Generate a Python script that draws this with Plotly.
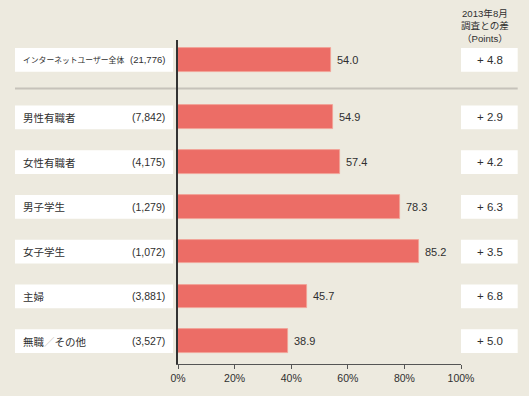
import plotly.graph_objects as go

# ---- data ----
categories = ["インターネットユーザー全体", "男性有職者", "女性有職者", "男子学生",
              "女子学生", "主婦", "無職／その他"]
counts = ["21,776", "7,842", "4,175", "1,279", "1,072", "3,881", "3,527"]
values = [54.0, 54.9, 57.4, 78.3, 85.2, 45.7, 38.9]
diffs = [4.8, 2.9, 4.2, 6.3, 3.5, 6.8, 5.0]
x_ticks = [0, 20, 40, 60, 80, 100]
header = ["2013年8月", "調査との差", "（Points）"]

# ---- layout helpers ----
BG = "#EDEADF"
BAR = "#EC6D66"
TXT = "#2f2f2f"
LAT = "Liberation Sans, Noto Sans CJK JP, sans-serif"
CJK = "Noto Sans CJK JP, sans-serif"

L, R, T, B = 178, 68, 40, 29
W, H = 529, 396
PW = W - L - R


def px(xp):
    return (xp - L) / PW


GAP = 1.283
ypos = [0.0] + [GAP + i for i in range(len(categories) - 1)]
sep_y = 0.642
BW = 0.53

fig = go.Figure()
fig.add_trace(go.Bar(
    x=values, y=ypos, orientation="h", width=BW,
    marker=dict(color=BAR, line=dict(color="#F2A195", width=0.8)),
    hoverinfo="skip", showlegend=False,
))

shapes = []
annotations = []
for i, (cat, cnt, v, d) in enumerate(zip(categories, counts, values, diffs)):
    y = ypos[i]
    # left white label box
    shapes.append(dict(type="rect", xref="paper", yref="y",
                       x0=px(15), x1=px(173), y0=y - BW / 2, y1=y + BW / 2,
                       fillcolor="white", line=dict(width=0), layer="below"))
    # right white diff box
    shapes.append(dict(type="rect", xref="paper", yref="y",
                       x0=px(461), x1=px(517.7), y0=y - BW / 2, y1=y + BW / 2,
                       fillcolor="white", line=dict(width=0), layer="below"))
    if i == 0:
        annotations.append(dict(xref="paper", yref="y", x=px(21), y=y,
                                text=cat, showarrow=False,
                                xanchor="left", yanchor="middle",
                                font=dict(family=CJK, size=7.8, color=TXT)))
        annotations.append(dict(xref="paper", yref="y", x=px(167), y=y,
                                text=f"({cnt})", showarrow=False,
                                xanchor="right", yanchor="middle",
                                font=dict(family=LAT, size=9.5, color=TXT)))
    else:
        name = cat.replace("／", "<span style='color:#b8b4ac'>／</span>")
        annotations.append(dict(xref="paper", yref="y", x=px(21), y=y,
                                text=name, showarrow=False,
                                xanchor="left", yanchor="middle",
                                font=dict(family=CJK, size=10.5, color=TXT)))
        annotations.append(dict(xref="paper", yref="y", x=px(167), y=y,
                                text=f"({cnt})", showarrow=False,
                                xanchor="right", yanchor="middle",
                                font=dict(family=LAT, size=10.5, color=TXT)))
    # value label
    annotations.append(dict(xref="x", yref="y", x=v, y=y, xshift=4,
                            text=f"{v:.1f}", showarrow=False,
                            xanchor="left", yanchor="middle",
                            font=dict(family=LAT, size=11, color=TXT)))
    # diff label
    annotations.append(dict(xref="paper", yref="y", x=px(489.5), y=y,
                            text=f"+ {d:.1f}", showarrow=False,
                            xanchor="center", yanchor="middle",
                            font=dict(family=LAT, size=11.5, color=TXT)))

# separator line
shapes.append(dict(type="line", xref="paper", yref="y",
                   x0=px(15), x1=px(517.7), y0=sep_y, y1=sep_y,
                   line=dict(color="#C6C2BA", width=2), layer="below"))

# header
ph = H - T - B
annotations.append(dict(xref="paper", yref="paper", x=px(485), y=(H - B - 26) / ph,
                        text="<br>".join(header), showarrow=False,
                        xanchor="center", yanchor="middle", align="center",
                        font=dict(family=LAT, size=9.6, color=TXT)))

fig.update_layout(
    width=W, height=H,
    margin=dict(l=L, r=R, t=T, b=B, pad=0),
    paper_bgcolor=BG, plot_bgcolor=BG,
    shapes=shapes, annotations=annotations,
    bargap=0,
    xaxis=dict(range=[0, 100], tickmode="array", tickvals=x_ticks,
               ticktext=[f"{t}%" for t in x_ticks],
               showgrid=False, zeroline=False,
               showline=True, linecolor="#555555", linewidth=1,
               ticks="outside", ticklen=4, tickcolor="#555555", tickwidth=1,
               tickfont=dict(family=LAT, size=10.5, color=TXT),
               fixedrange=True),
    yaxis=dict(range=[6.792, -0.442], showticklabels=False, ticks="",
               showgrid=False, zeroline=False,
               showline=True, linecolor="#333333", linewidth=1.5,
               fixedrange=True),
)

fig.write_html("out.html", config={"displayModeBar": False},
               post_script="document.body.style.margin='0';document.body.style.background='" + BG + "';")
